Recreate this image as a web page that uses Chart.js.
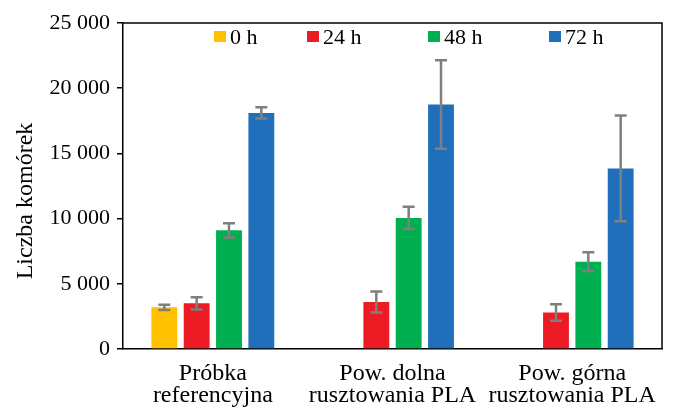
<!DOCTYPE html>
<html>
<head>
<meta charset="utf-8">
<script src="https://cdn.jsdelivr.net/npm/chart.js@4/dist/chart.umd.min.js"></script>
<style>
  html, body { margin: 0; padding: 0; background: #fff; }
  #wrap { width: 676px; height: 410px; }
</style>
</head>
<body>
<div id="wrap"><canvas id="chart"></canvas></div>
<script>
// data
const categories = [["Próbka", "referencyjna"], ["Pow. dolna", "rusztowania PLA"], ["Pow. górna", "rusztowania PLA"]];
const seriesLabels = ["0 h", "24 h", "48 h", "72 h"];
const values0h = [3200, null, null];
const values24h = [3500, 3600, 2800];
const values48h = [9100, 10050, 6700];
const values72h = [18100, 18750, 13850];
const err0h = [200, null, null];
const err24h = [470, 800, 630];
const err48h = [540, 855, 715];
const err72h = [430, 3400, 4050];
const yTicks = [0, 5000, 10000, 15000, 20000, 25000];
const yTitle = "Liczba komórek";

const colors = ["#ffc000", "#ed1c24", "#00b050", "#1f6fbb"];
const legendX = [214, 307, 428, 549];
const serif = "'Liberation Serif', serif";

const allValues = [values0h, values24h, values48h, values72h];
const allErrors = [err0h, err24h, err48h, err72h];

const datasets = seriesLabels.map(function (label, i) {
    return {
        label: label,
        data: allValues[i],
        errors: allErrors[i],
        backgroundColor: colors[i],
        borderWidth: 0,
        categoryPercentage: 0.72,
        barPercentage: 0.8
    };
});

function fmt(v) {
    return String(v).replace(/\B(?=(\d{3})+(?!\d))/g, " ");
}

const errorBars = {
    id: "errorBars",
    afterDatasetsDraw(chart) {
        const ctx = chart.ctx;
        const y = chart.scales.y;
        ctx.save();
        ctx.strokeStyle = "#7f7f7f";
        ctx.lineWidth = 2.5;
        chart.data.datasets.forEach(function (ds, i) {
            const meta = chart.getDatasetMeta(i);
            meta.data.forEach(function (bar, j) {
                const v = ds.data[j], e = ds.errors[j];
                if (v == null || e == null) return;
                const top = y.getPixelForValue(v + e);
                const bot = y.getPixelForValue(v - e);
                const x = bar.x;
                ctx.beginPath();
                ctx.moveTo(x, top); ctx.lineTo(x, bot);
                ctx.moveTo(x - 6, top); ctx.lineTo(x + 6, top);
                ctx.moveTo(x - 6, bot); ctx.lineTo(x + 6, bot);
                ctx.stroke();
            });
        });
        ctx.restore();
    }
};

// frame on top/right, legend inside the plot, rotated y title
const frameAndLegend = {
    id: "frameAndLegend",
    afterDraw(chart) {
        const ctx = chart.ctx;
        const a = chart.chartArea;
        ctx.save();
        ctx.strokeStyle = "#000";
        ctx.lineWidth = 1.5;
        ctx.beginPath();
        ctx.moveTo(a.left, a.top); ctx.lineTo(a.right, a.top); ctx.lineTo(a.right, a.bottom);
        ctx.stroke();

        ctx.font = "22px " + serif;
        ctx.textBaseline = "alphabetic";
        chart.data.datasets.forEach(function (ds, i) {
            const x = legendX[i];
            ctx.fillStyle = ds.backgroundColor;
            ctx.fillRect(x, a.top + 8, 12, 11);
            ctx.fillStyle = "#000";
            ctx.fillText(ds.label, x + 16, a.top + 21);
        });

        ctx.font = "24px " + serif;
        ctx.textAlign = "center";
        ctx.translate(32, 201);
        ctx.rotate(-Math.PI / 2);
        ctx.fillText(yTitle, 0, 0);
        ctx.restore();
    }
};

new Chart(document.getElementById("chart"), {
    type: "bar",
    data: { labels: categories, datasets: datasets },
    plugins: [errorBars, frameAndLegend],
    options: {
        responsive: true,
        maintainAspectRatio: false,
        animation: false,
        layout: { padding: { left: 0, right: 14, top: 23, bottom: 0 } },
        plugins: { legend: { display: false }, tooltip: { enabled: false } },
        scales: {
            x: {
                grid: { display: false, drawTicks: false },
                border: { display: true, color: "#000", width: 1.5 },
                ticks: { color: "#000", padding: 14, maxRotation: 0, font: { family: serif, size: 24, lineHeight: 0.9 } },
                afterFit(scale) { scale.height = 61; }
            },
            y: {
                min: 0,
                max: 25000,
                afterBuildTicks(scale) { scale.ticks = yTicks.map(function (v) { return { value: v }; }); },
                grid: { drawOnChartArea: false, drawTicks: true, tickLength: 6, color: "#000", lineWidth: 1.5 },
                border: { display: true, color: "#000", width: 1.5 },
                ticks: { color: "#000", padding: 7, font: { family: serif, size: 22 }, callback: function (v) { return fmt(v); } },
                afterFit(scale) { scale.width = 123; }
            }
        }
    }
});
</script>
</body>
</html>
